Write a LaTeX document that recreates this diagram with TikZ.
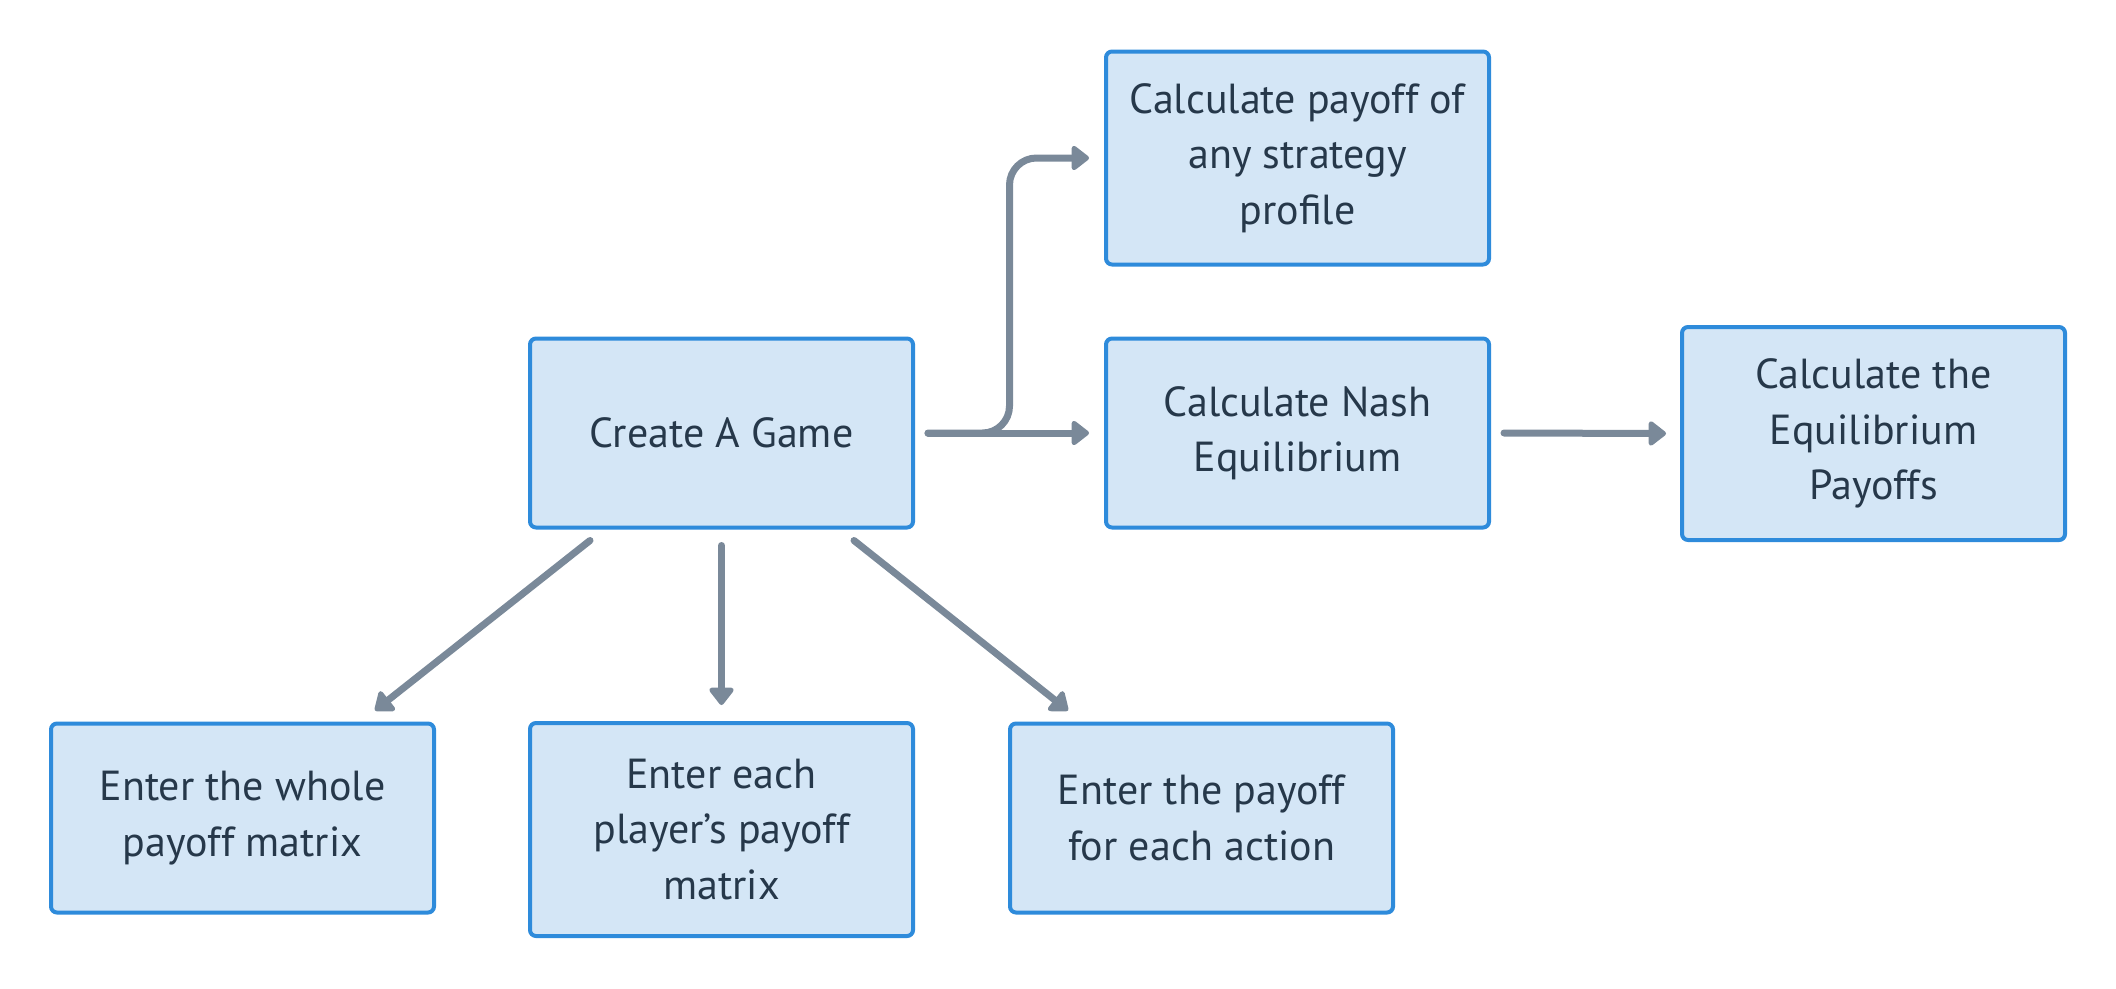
\documentclass[tikz,border=0pt]{standalone}
\usepackage{fontspec}
\setmainfont{PT Sans}
\usetikzlibrary{arrows.meta,calc}
\definecolor{boxfill}{HTML}{D4E6F6}
\definecolor{boxline}{HTML}{2E8BDB}
\definecolor{arrowc}{HTML}{7A8999}
\definecolor{txt}{HTML}{26384A}
\begin{document}
\begin{tikzpicture}[x=1pt,y=-1pt,
  box/.style={draw=boxline, fill=boxfill, line width=4pt, rounded corners=6pt,
    minimum width=383pt, minimum height=189pt, align=center, text=txt,
    font=\fontsize{42}{55.5}\selectfont, inner sep=0pt},
  tall/.style={minimum height=213pt},
  conn/.style={draw=arrowc, line width=7pt, line cap=round, line join=round,
    -{Triangle[length=19pt,width=28pt,round]}}
]
\useasboundingbox (0,0) rectangle (2116,988);
\node[box] (create) at (721.5,433) {Create A Game};
\node[box,tall] (calc) at (1297.5,158) {Calculate payoff of\\any strategy\\profile};
\node[box] (nash) at (1297.5,433) {Calculate Nash\\Equilibrium};
\node[box,tall] (eqp) at (1873.5,433.5) {Calculate the\\Equilibrium\\Payoffs};
\node[box] (whole) at (242.5,818) {Enter the whole\\payoff matrix};
\node[box,tall] (each) at (721.5,829.5) {Enter each\\player’s payoff\\matrix};
\node[box] (action) at (1201.5,818) {Enter the payoff\\for each action};

\coordinate (bend) at ($(create.east)!0.5!(nash.west)$);
\draw[conn] ([xshift=13pt]create.east) -- ([xshift=-15pt]nash.west);
\draw[conn, rounded corners=27pt] ([xshift=13pt]create.east) -- (bend |- create.east) -- (bend |- calc.west) -- ([xshift=-15pt]calc.west);
\draw[conn] ([xshift=13pt]nash.east) -- ([xshift=-14pt]eqp.west);
\draw[conn] ([xshift=62pt,yshift=-11pt]create.south west) -- ([xshift=-61pt,yshift=11pt]whole.north east);
\draw[conn] ([yshift=-16pt]create.south) -- ([yshift=16pt]each.north);
\draw[conn] ([xshift=-61pt,yshift=-11pt]create.south east) -- ([xshift=60pt,yshift=11pt]action.north west);
\end{tikzpicture}
\end{document}
